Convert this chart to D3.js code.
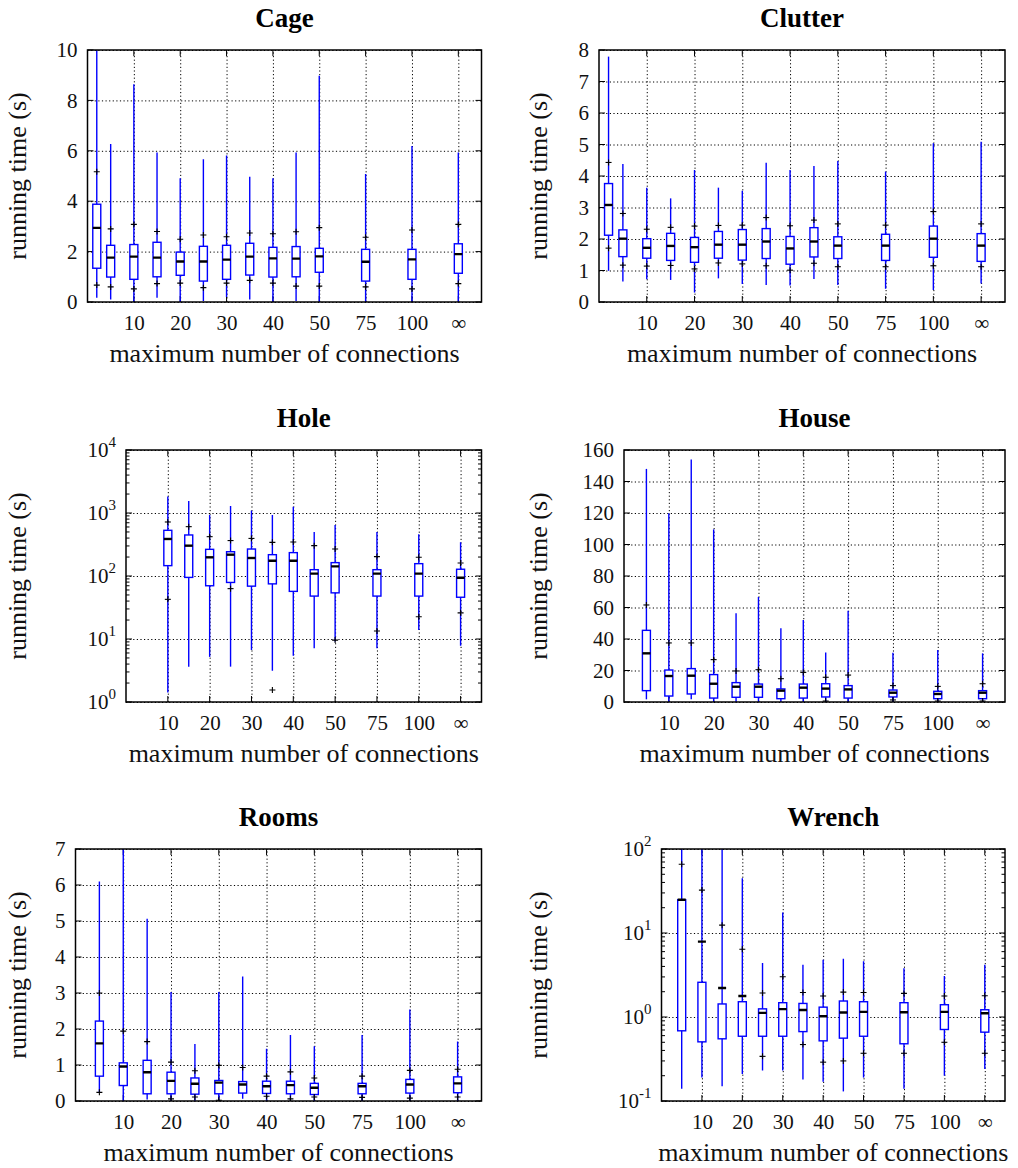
<!DOCTYPE html>
<html>
<head>
<meta charset="utf-8">
<script src="https://d3js.org/d3.v7.min.js"></script>
<style>
  body { margin: 0; background: #fff; }
</style>
</head>
<body>
<script>
// categories (maximum number of connections), Infinity = no limit
var catsFull = [2, 5, 10, 15, 20, 25, 30, 35, 40, 45, 50, 75, 100, Infinity]
var catsHole = [10, 15, 20, 25, 30, 35, 40, 45, 50, 75, 100, Infinity]
var catsFrom5 = [5, 10, 15, 20, 25, 30, 35, 40, 45, 50, 75, 100, Infinity]
var xTickValues = [10, 20, 30, 40, 50, 75, 100, Infinity]

// Cage
var cageMax = [10, 6.27, 8.64, 5.93, 4.91, 5.66, 5.81, 4.97, 4.91, 5.93, 8.98, 5.08, 6.19, 5.93]
var cageHi  = [5.17, 2.9, 3.08, 2.8, 2.49, 2.66, 2.59, 2.74, 2.71, 2.79, 2.95, 2.57, 2.86, 3.08]
var cageQ3  = [3.88, 2.25, 2.28, 2.37, 1.98, 2.21, 2.25, 2.33, 2.17, 2.2, 2.13, 2.09, 2.09, 2.31]
var cageMed = [2.94, 1.76, 1.8, 1.76, 1.61, 1.61, 1.68, 1.8, 1.73, 1.72, 1.81, 1.6, 1.69, 1.9]
var cageQ1  = [1.34, 0.99, 0.9, 1.0, 1.06, 0.83, 0.9, 1.07, 0.99, 1.0, 1.18, 0.83, 0.9, 1.14]
var cageLo  = [0.67, 0.6, 0.52, 0.73, 0.75, 0.57, 0.75, 0.86, 0.75, 0.63, 0.63, 0.6, 0.52, 0.73]
var cageMin = [0.17, 0.1, 0, 0.17, 0, 0.04, 0.2, 0.1, 0, 0.04, 0, 0, 0, 0]

// Clutter
var clutterMax = [7.79, 4.38, 3.63, 3.29, 4.19, 3.63, 3.53, 4.42, 4.19, 4.32, 4.48, 4.14, 5.04, 5.09]
var clutterHi  = [4.43, 2.81, 2.31, 2.37, 2.41, 2.43, 2.44, 2.68, 2.42, 2.6, 2.48, 2.44, 2.87, 2.48]
var clutterQ3  = [3.76, 2.29, 2.01, 2.18, 2.05, 2.24, 2.3, 2.33, 2.08, 2.36, 2.07, 2.15, 2.41, 2.17]
var clutterMed = [3.08, 2.01, 1.72, 1.78, 1.74, 1.82, 1.82, 1.92, 1.7, 1.92, 1.79, 1.79, 2.01, 1.79]
var clutterQ1  = [2.12, 1.44, 1.39, 1.32, 1.26, 1.39, 1.33, 1.38, 1.2, 1.43, 1.38, 1.32, 1.42, 1.29]
var clutterLo  = [1.71, 1.17, 1.14, 1.16, 1.05, 1.24, 1.21, 1.15, 1.01, 1.23, 1.12, 1.12, 1.15, 1.12]
var clutterMin = [0.99, 0.65, 0.72, 0.7, 0.3, 0.75, 0.57, 0.54, 0.52, 0.73, 0.54, 0.42, 0.38, 0.59]

// Hole (log)
var holeMax = [1820, 1550, 930, 1290, 1090, 930, 1260, 500, 646, 500, 458, 342]
var holeHi  = [720, 607, 421, 365, 395, 342, 346, 303, 268, 203, 198, 161]
var holeQ3  = [531, 448, 265, 243, 268, 218, 235, 126, 163, 126, 157, 128]
var holeMed = [387, 303, 198, 218, 193, 175, 175, 109, 142, 109, 109, 94]
var holeQ1  = [146, 95, 70, 79, 69, 75, 57, 48, 54, 48, 48, 46]
var holeLo  = [42.6, null, null, 63, null, 1.55, null, null, 9.6, 13.4, 22.6, 26]
var holeMin = [1.41, 3.64, 5.2, 3.64, 6.7, 3.14, 5.4, 7.1, 9.1, 7.1, 13.9, 7.8]

// House
var houseMax = [148, 119.8, 154, 109.6, 56.3, 66.7, 46.8, 52, 31.5, 58, 31.3, 33, 30.9]
var houseHi  = [61.6, 37.5, 37.5, 26.9, 19.7, 20.5, 14.8, 18.8, 15.7, 17.1, 10.4, 9.9, 11.6]
var houseQ3  = [45.5, 20.3, 21.2, 17.4, 12.3, 11.4, 8.3, 11.4, 11.6, 10.4, 7.6, 6.8, 7.2]
var houseMed = [30.9, 16.5, 16.7, 11.6, 9.7, 9.7, 7.2, 9.1, 8.5, 8.0, 5.9, 5.1, 5.9]
var houseQ1  = [7.2, 3.8, 5.1, 2.5, 3.0, 3.0, 2.1, 2.5, 3.2, 2.5, 3.2, 2.1, 2.1]
var houseLo  = [null, null, null, null, null, null, null, null, 0.6, null, 1.3, 0.6, 0.6]
var houseMin = [1.7, 0, 1.7, 0, 0, 0, 0, 0, 0, 0, 0, 0, 0]

// Rooms
var roomsMax = [6.1, 7, 5.06, 3.03, 1.58, 3.03, 3.46, 1.45, 1.83, 1.52, 1.83, 2.54, 1.65]
var roomsHi  = [3.0, 1.94, 1.65, 1.08, 0.84, 0.99, 0.93, 0.69, 0.81, 0.64, 0.69, 0.85, 0.88]
var roomsQ3  = [2.22, 1.06, 1.13, 0.8, 0.64, 0.57, 0.54, 0.55, 0.55, 0.49, 0.49, 0.6, 0.67]
var roomsMed = [1.6, 0.96, 0.8, 0.56, 0.48, 0.51, 0.46, 0.41, 0.44, 0.37, 0.41, 0.46, 0.49]
var roomsQ1  = [0.69, 0.43, 0.2, 0.2, 0.19, 0.2, 0.22, 0.21, 0.2, 0.18, 0.2, 0.22, 0.23]
var roomsLo  = [0.24, null, null, 0.06, 0.11, 0.02, null, 0.13, 0.06, 0.11, 0.1, 0.08, 0.11]
var roomsMin = [0.22, 0, 0.04, 0, 0, 0, 0.06, 0, 0, 0, 0, 0, 0]

// Wrench (log)
var wrenchMax = [100, 100, 100, 45, 4.4, 17.5, 4.2, 4.8, 4.95, 4.6, 3.8, 3.08, 4.2]
var wrenchHi  = [65.7, 32.4, 12.4, 6.4, 1.93, 3.02, 1.96, 1.78, 1.98, 1.96, 1.91, 1.78, 1.79]
var wrenchQ3  = [24.9, 2.59, 1.43, 1.52, 1.25, 1.48, 1.45, 1.31, 1.55, 1.52, 1.48, 1.4, 1.22]
var wrenchMed = [24.9, 7.9, 2.21, 1.78, 1.12, 1.24, 1.21, 1.02, 1.13, 1.15, 1.14, 1.15, 1.11]
var wrenchQ1  = [0.685, 0.506, 0.55, 0.59, 0.59, 0.59, 0.67, 0.52, 0.56, 0.59, 0.48, 0.71, 0.66]
var wrenchLo  = [null, null, null, null, 0.34, null, 0.47, 0.29, 0.3, 0.37, 0.37, 0.5, 0.37]
var wrenchMin = [0.14, 0.19, 0.15, 0.21, 0.23, 0.23, 0.18, 0.17, 0.13, 0.19, 0.14, 0.2, 0.24]

var cageTicks = [0, 2, 4, 6, 8, 10]
var clutterTicks = [0, 1, 2, 3, 4, 5, 6, 7, 8]
var holeTicks = [1, 10, 100, 1000, 10000]
var houseTicks = [0, 20, 40, 60, 80, 100, 120, 140, 160]
var roomsTicks = [0, 1, 2, 3, 4, 5, 6, 7]
var wrenchTicks = [0.1, 1, 10, 100]

var panels = [
  { title: "Cage", cats: catsFull, max: cageMax, hi: cageHi, q3: cageQ3, med: cageMed, q1: cageQ1, lo: cageLo, min: cageMin,
    log: false, ticks: cageTicks, l: 87.5, r: 481.5, t: 50, b: 302, ylab: 26 },
  { title: "Clutter", cats: catsFull, max: clutterMax, hi: clutterHi, q3: clutterQ3, med: clutterMed, q1: clutterQ1, lo: clutterLo, min: clutterMin,
    log: false, ticks: clutterTicks, l: 599, r: 1005, t: 50, b: 302, ylab: 547 },
  { title: "Hole", cats: catsHole, max: holeMax, hi: holeHi, q3: holeQ3, med: holeMed, q1: holeQ1, lo: holeLo, min: holeMin,
    log: true, ticks: holeTicks, l: 126, r: 481.5, t: 450, b: 702, ylab: 26 },
  { title: "House", cats: catsFrom5, max: houseMax, hi: houseHi, q3: houseQ3, med: houseMed, q1: houseQ1, lo: houseLo, min: houseMin,
    log: false, ticks: houseTicks, l: 624, r: 1005, t: 450, b: 702, ylab: 547 },
  { title: "Rooms", cats: catsFrom5, max: roomsMax, hi: roomsHi, q3: roomsQ3, med: roomsMed, q1: roomsQ1, lo: roomsLo, min: roomsMin,
    log: false, ticks: roomsTicks, l: 75.5, r: 481.5, t: 849, b: 1101, ylab: 26 },
  { title: "Wrench", cats: catsFrom5, max: wrenchMax, hi: wrenchHi, q3: wrenchQ3, med: wrenchMed, q1: wrenchQ1, lo: wrenchLo, min: wrenchMin,
    log: true, ticks: wrenchTicks, l: 661.5, r: 1005, t: 849, b: 1101, ylab: 547 }
]

var blue = "#0000ff"
var boxW = 8
var serif = "'Liberation Serif', 'Times New Roman', serif"

var svg = d3.select("body").append("svg")
  .attr("width", 1018)
  .attr("height", 1168)
  .attr("font-family", serif)

panels.forEach(function(p, pi) {
  var w = p.r - p.l, h = p.b - p.t
  // 0..50 spaced by 5, then 75, 100, inf at double spacing (inf -> 125)
  var x = d3.scaleLinear().domain([0, 50, 125]).range([p.l, p.l + w * 10 / 17, p.l + w * 16 / 17])
  var xv = function(v) { return x(v === Infinity ? 125 : v) }
  var y = (p.log ? d3.scaleLog() : d3.scaleLinear()).domain([p.ticks[0], p.ticks[p.ticks.length - 1]]).range([p.b, p.t])

  var g = svg.append("g")

  g.append("clipPath").attr("id", "clip" + pi)
    .append("rect").attr("x", p.l).attr("y", p.t).attr("width", w).attr("height", h)

  // y grid + labels
  var yAxis = d3.axisLeft(y).tickValues(p.ticks).tickSize(-w).tickPadding(10)
  if (p.log) yAxis.tickFormat(function() { return "" })
  else yAxis.tickFormat(d3.format("~g"))
  var gy = g.append("g").attr("transform", "translate(" + p.l + ",0)").call(yAxis)
    .attr("font-family", serif).attr("font-size", 21)
  gy.select(".domain").remove()
  gy.selectAll(".tick line").attr("stroke", "#000").attr("stroke-width", 1).attr("stroke-dasharray", "1.2,2.4")
  gy.selectAll(".tick text").attr("fill", "#111")
  if (p.log) {
    gy.selectAll(".tick text").each(function(d) {
      var t = d3.select(this)
      t.append("tspan").text("10")
      t.append("tspan").attr("font-size", 15).attr("dy", "-0.7em").text(Math.round(Math.log10(d)))
    })
  }

  // x grid + labels
  var xAxis = d3.axisBottom(x)
    .tickValues(xTickValues.map(function(v) { return v === Infinity ? 125 : v }))
    .tickFormat(function(v) { return v === 125 ? "∞" : v })
    .tickSize(-h).tickPadding(13)
  var gx = g.append("g").attr("transform", "translate(0," + p.b + ")").call(xAxis)
    .attr("font-family", serif).attr("font-size", 21)
  gx.select(".domain").remove()
  gx.selectAll(".tick line").attr("stroke", "#000").attr("stroke-width", 1).attr("stroke-dasharray", "1.2,2.4")
  gx.selectAll(".tick text").attr("fill", "#111")

  // short solid tick marks on all sides
  var tk = g.append("g").attr("stroke", "#000").attr("stroke-width", 1)
  p.ticks.forEach(function(v) {
    tk.append("line").attr("x1", p.l).attr("x2", p.l + 6).attr("y1", y(v)).attr("y2", y(v))
    tk.append("line").attr("x1", p.r).attr("x2", p.r - 6).attr("y1", y(v)).attr("y2", y(v))
  })
  if (p.log) {
    var lo = Math.log10(p.ticks[0]), hi = Math.log10(p.ticks[p.ticks.length - 1])
    for (var e = lo; e < hi; e++) {
      for (var k = 2; k <= 9; k++) {
        var yy = y(k * Math.pow(10, e))
        tk.append("line").attr("x1", p.l).attr("x2", p.l + 3.5).attr("y1", yy).attr("y2", yy)
        tk.append("line").attr("x1", p.r).attr("x2", p.r - 3.5).attr("y1", yy).attr("y2", yy)
      }
    }
  }
  xTickValues.forEach(function(v) {
    tk.append("line").attr("x1", xv(v)).attr("x2", xv(v)).attr("y1", p.b).attr("y2", p.b - 6)
    tk.append("line").attr("x1", xv(v)).attr("x2", xv(v)).attr("y1", p.t).attr("y2", p.t + 6)
  })

  // boxes
  var data = p.cats.map(function(c, i) {
    return { c: c, max: p.max[i], hi: p.hi[i], q3: p.q3[i], med: p.med[i], q1: p.q1[i], lo: p.lo[i], min: p.min[i] }
  })
  var bx = g.append("g").attr("clip-path", "url(#clip" + pi + ")")
  var box = bx.selectAll("g.box").data(data).enter().append("g").attr("class", "box")

  box.append("line")
    .attr("x1", function(d) { return xv(d.c) })
    .attr("x2", function(d) { return xv(d.c) })
    .attr("y1", function(d) { return y(d.min) })
    .attr("y2", function(d) { return y(d.max) })
    .attr("stroke", blue).attr("stroke-width", 1.4)

  box.append("rect")
    .attr("x", function(d) { return xv(d.c) - boxW / 2 })
    .attr("width", boxW)
    .attr("y", function(d) { return y(d.q3) })
    .attr("height", function(d) { return y(d.q1) - y(d.q3) })
    .attr("fill", "#fff").attr("stroke", blue).attr("stroke-width", 1.4)

  box.append("line")
    .attr("x1", function(d) { return xv(d.c) - boxW / 2 })
    .attr("x2", function(d) { return xv(d.c) + boxW / 2 })
    .attr("y1", function(d) { return y(d.med) })
    .attr("y2", function(d) { return y(d.med) })
    .attr("stroke", "#000").attr("stroke-width", 2.4)

  var plus = []
  data.forEach(function(d) {
    if (d.hi != null) plus.push({ c: d.c, v: d.hi })
    if (d.lo != null) plus.push({ c: d.c, v: d.lo })
  })
  var pg = bx.selectAll("g.plus").data(plus).enter().append("g").attr("class", "plus")
    .attr("stroke", "#000").attr("stroke-width", 1.1)
  pg.append("line")
    .attr("x1", function(d) { return xv(d.c) - 3 }).attr("x2", function(d) { return xv(d.c) + 3 })
    .attr("y1", function(d) { return y(d.v) }).attr("y2", function(d) { return y(d.v) })
  pg.append("line")
    .attr("x1", function(d) { return xv(d.c) }).attr("x2", function(d) { return xv(d.c) })
    .attr("y1", function(d) { return y(d.v) - 3 }).attr("y2", function(d) { return y(d.v) + 3 })

  // frame
  g.append("rect").attr("x", p.l).attr("y", p.t).attr("width", w).attr("height", h)
    .attr("fill", "none").attr("stroke", "#000").attr("stroke-width", 1.5)

  // texts
  g.append("text").attr("x", (p.l + p.r) / 2).attr("y", p.t - 23)
    .attr("text-anchor", "middle").attr("font-size", 27).attr("font-weight", "bold").text(p.title)
  g.append("text").attr("x", (p.l + p.r) / 2).attr("y", p.b + 60)
    .attr("text-anchor", "middle").attr("font-size", 26).attr("fill", "#111").text("maximum number of connections")
  g.append("text").attr("transform", "translate(" + p.ylab + "," + (p.t + p.b) / 2 + ") rotate(-90)")
    .attr("text-anchor", "middle").attr("font-size", 26).attr("fill", "#111").text("running time (s)")
})
</script>
</body>
</html>
